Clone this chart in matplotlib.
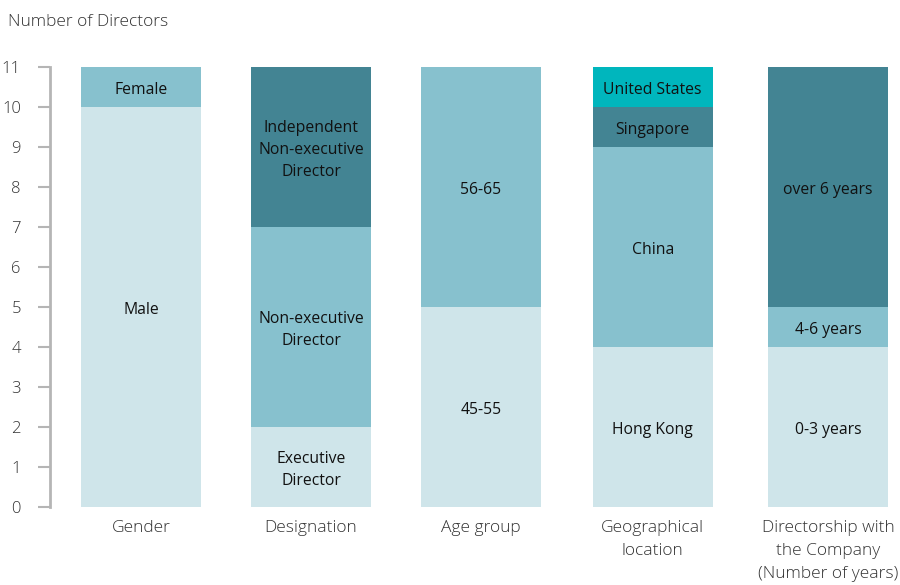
import matplotlib

matplotlib.use("Agg")
import matplotlib.pyplot as plt  # noqa: E402

plt.rcParams["font.family"] = ["Open Sans", "DejaVu Sans"]

# datos
categories = ["Gender", "Designation", "Age group", "Geographical\nlocation",
              "Directorship with\nthe Company\n(Number of years)"]
seg_labels = [
    ["Male", "Female"],
    ["Executive\nDirector", "Non-executive\nDirector",
     "Independent\nNon-executive\nDirector"],
    ["45-55", "56-65"],
    ["Hong Kong", "China", "Singapore", "United States"],
    ["0-3 years", "4-6 years", "over 6 years"],
]
seg_values = [
    [10, 1],
    [2, 5, 4],
    [5, 6],
    [4, 5, 1, 1],
    [4, 1, 6],
]
palette = ["#cfe5ea", "#87c1ce", "#438493", "#00b6bd"]
yticks = list(range(0, 12))


def run():
    fig = plt.figure(figsize=(9, 5.85), dpi=100)
    ax = fig.add_axes([50 / 900, 78 / 585, 850 / 900, 440 / 585])

    x = [0, 0.99, 1.98, 2.98, 4.0]
    for i, (labs, vals) in enumerate(zip(seg_labels, seg_values)):
        bottom = 0
        for j, (lab, v) in enumerate(zip(labs, vals)):
            ax.bar(x[i], v, bottom=bottom, width=0.70, color=palette[j],
                   linewidth=0)
            # un poco abajo del centro, como en el original
            ax.text(x[i], bottom + v / 2 - 0.08, lab, ha="center",
                    va="center", fontsize=11.3, color="#111111",
                    linespacing=1.5)
            bottom += v

    ax.set_xlim(-0.53, 4.42)
    ax.set_ylim(0, 11)
    ax.set_yticks(yticks)
    ax.set_xticks(x)
    ax.set_xticklabels(categories, fontsize=12.5, color="#333333",
                       fontweight="light", linespacing=1.62)
    ax.tick_params(axis="x", length=0, pad=9)
    ax.tick_params(axis="y", length=9, width=1.5, color="#b5b5b5",
                   labelsize=12, labelcolor="#333333", pad=12)
    for lab in ax.get_yticklabels():
        lab.set_fontweight("light")
    for s in ("top", "right", "bottom"):
        ax.spines[s].set_visible(False)
    ax.spines["left"].set_color("#b5b5b5")
    ax.spines["left"].set_linewidth(2)

    fig.text(8 / 900, 1 - 22 / 585, "Number of Directors", fontsize=12.5,
             color="#333333", fontweight="light", va="center", ha="left")

    fig.savefig("out.png", dpi=100)


if __name__ == "__main__":
    run()
